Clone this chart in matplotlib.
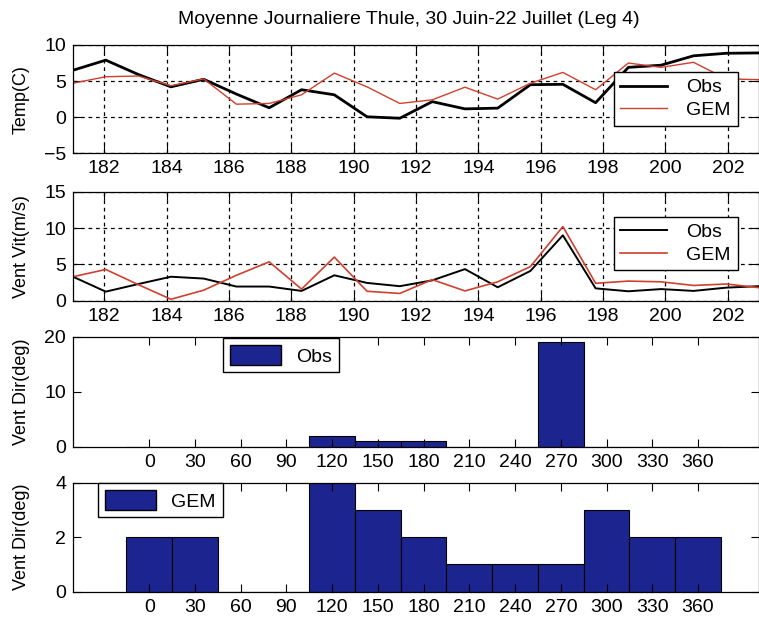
import matplotlib
matplotlib.use("Agg")
import matplotlib.pyplot as plt
from matplotlib.patches import Patch

plt.rcParams["font.family"] = ["Liberation Sans Narrow", "Liberation Sans", "DejaVu Sans"]

# day of year (daily means, 30 June - 22 July)
days = [181.0, 182.05, 183.1, 184.14, 185.19, 186.24, 187.29, 188.33, 189.38, 190.43, 191.48,
        192.52, 193.57, 194.62, 195.67, 196.71, 197.76, 198.81, 199.86, 200.9, 201.95, 203.0]

temp_obs = [6.5, 7.9, 5.9, 4.2, 5.25, 3.2, 1.3, 3.8, 3.1, 0.05, -0.15,
            2.15, 1.15, 1.25, 4.5, 4.55, 2.0, 6.9, 7.2, 8.5, 8.85, 8.9]
temp_gem = [4.7, 5.6, 5.7, 4.35, 5.3, 1.8, 1.9, 3.1, 6.1, 4.2, 1.9,
            2.4, 4.15, 2.5, 4.7, 6.2, 3.8, 7.5, 6.9, 7.6, 5.3, 5.2]

wind_obs = [3.3, 1.25, 2.3, 3.3, 3.05, 1.95, 1.95, 1.35, 3.5, 2.45, 2.0,
            2.8, 4.35, 1.85, 4.1, 9.0, 1.7, 1.3, 1.6, 1.35, 1.8, 2.0]
wind_gem = [3.3, 4.3, 2.2, 0.2, 1.45, 3.5, 5.35, 1.6, 6.0, 1.3, 1.0,
            2.9, 1.35, 2.6, 4.7, 10.2, 2.4, 2.7, 2.6, 2.1, 2.3, 1.8]

# wind direction histograms (number of days per 30 deg bin)
dir_bins = [0, 30, 60, 90, 120, 150, 180, 210, 240, 270, 300, 330, 360]
dir_obs = [0, 0, 0, 0, 2, 1, 1, 0, 0, 19, 0, 0, 0]
dir_gem = [2, 2, 0, 0, 4, 3, 2, 1, 1, 1, 3, 2, 2]

day_ticks = [182, 184, 186, 188, 190, 192, 194, 196, 198, 200, 202]

red = "#d0402e"
navy = "#1c2490"

fig = plt.figure(figsize=(7.59, 6.23), dpi=100)

left, width = 0.0962, 0.9038
ax1 = fig.add_axes([left, 0.754, width, 0.1738])
ax2 = fig.add_axes([left, 0.5173, width, 0.175])
ax3 = fig.add_axes([left, 0.283, width, 0.1766])
ax4 = fig.add_axes([left, 0.0502, width, 0.175])

fs = 14

for ax in (ax1, ax2, ax3, ax4):
    ax.tick_params(direction="in", top=True, right=True, length=6, width=0.8,
                   labelsize=fs, pad=5)
    for s in ax.spines.values():
        s.set_linewidth(0.9)
    ax.yaxis.set_label_coords(-0.063, 0.5)

# temperature
ax1.plot(days, temp_obs, color="black", lw=2.0, label="Obs")
ax1.plot(days, temp_gem, color=red, lw=1.0, label="GEM")
ax1.set_xlim(181, 203)
ax1.set_ylim(-5, 10)
ax1.set_yticks([-5, 0, 5, 10])
ax1.set_ylabel("Temp(C)", fontsize=13)

# wind speed
ax2.plot(days, wind_obs, color="black", lw=1.4, label="Obs")
ax2.plot(days, wind_gem, color=red, lw=1.2, label="GEM")
ax2.set_xlim(181, 203)
ax2.set_ylim(0, 15)
ax2.set_yticks([0, 5, 10, 15])
ax2.set_ylabel("Vent Vit(m/s)", fontsize=13)

for ax, top in ((ax1, 0.751), (ax2, 0.771)):
    ax.set_xticks(day_ticks)
    ax.grid(True, color="black", linestyle=(0, (3, 3)), linewidth=0.9)
    ax.legend(loc="upper right", bbox_to_anchor=(0.969, top), fontsize=fs,
              fancybox=False, edgecolor="black", framealpha=1, borderaxespad=0,
              handlelength=2.4, handletextpad=1.0, borderpad=0.35, labelspacing=0.25)

# wind direction
ax3.bar(dir_bins, dir_obs, width=30, color=navy, edgecolor="black", lw=0.8)
ax3.set_ylim(0, 20)
ax3.set_yticks([0, 10, 20])
ax3.set_ylabel("Vent Dir(deg)", fontsize=13)
ax3.legend(handles=[Patch(facecolor=navy, edgecolor="black", label="Obs")],
           loc="upper left", bbox_to_anchor=(0.219, 0.985), fontsize=fs,
           fancybox=False, edgecolor="black", framealpha=1, borderaxespad=0,
           handlelength=2.6, handleheight=1.2, handletextpad=0.8, borderpad=0.35)

ax4.bar(dir_bins, dir_gem, width=30, color=navy, edgecolor="black", lw=0.8)
ax4.set_ylim(0, 4)
ax4.set_yticks([0, 2, 4])
ax4.set_ylabel("Vent Dir(deg)", fontsize=13)
ax4.legend(handles=[Patch(facecolor=navy, edgecolor="black", label="GEM")],
           loc="upper left", bbox_to_anchor=(0.037, 0.994), fontsize=fs,
           fancybox=False, edgecolor="black", framealpha=1, borderaxespad=0,
           handlelength=2.6, handleheight=1.2, handletextpad=0.8, borderpad=0.35)

for ax in (ax3, ax4):
    ax.set_xlim(-50, 400)
    ax.set_xticks(dir_bins)

fig.text(0.539, 0.968, "Moyenne Journaliere Thule, 30 Juin-22 Juillet (Leg 4)",
         ha="center", va="center", fontsize=14)

fig.savefig("out.png", dpi=100)
